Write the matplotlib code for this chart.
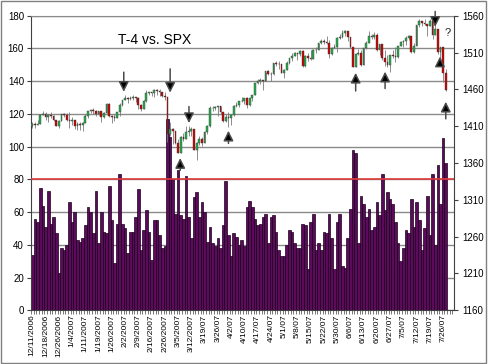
import numpy as np
import matplotlib
matplotlib.use('Agg')
import matplotlib.pyplot as plt
from matplotlib.patches import Rectangle

plt.rcParams['font.family'] = ['Liberation Sans', 'DejaVu Sans']

# T-4 reading, one bar per trading day (12/11/2006 .. 7/27/2007)
t4 = [34, 56, 54, 75, 64, 51, 73, 53, 57, 47, 23, 38, 37, 40, 66, 54, 60, 43, 42, 44,
      52, 63, 60, 47, 73, 41, 60, 48, 47, 76, 55, 29, 53, 83, 53, 50, 35, 48, 48, 57,
      74, 37, 49, 61, 48, 31, 55, 55, 46, 38, 39,
      117, 106, 80, 59, 86, 58, 56, 82, 57, 44, 69, 72, 57, 66, 60, 42, 51, 41, 39, 44,
      38, 52, 79, 46, 33, 47, 45, 40, 43, 39, 63, 67,
      63, 56, 52, 53, 57, 59, 41, 57, 58, 48, 37, 33, 33, 40, 49, 48, 41, 38, 38, 53,
      52, 25, 54, 59, 37, 41, 37, 48, 47, 59, 44, 25, 54, 59, 27, 26, 44, 62, 98, 96,
      41, 70, 65, 57, 62, 49, 51, 66, 58, 83, 61, 72, 68, 65, 54, 41, 30, 38, 49, 47,
      68, 51, 66, 55, 37, 50, 70, 46, 83, 40, 89, 65, 105, 90]

# SPX daily OHLC, same days
spx_open = [1409.8, 1413.0, 1411.6, 1413.2, 1425.5, 1427.1, 1422.5, 1425.6, 1423.5, 1418.3,
            1410.8, 1416.9, 1426.8, 1424.7, 1418.3, 1416.6, 1418.3, 1409.7, 1412.8, 1412.1,
            1414.9, 1423.8, 1430.7, 1431.9, 1430.6, 1426.4, 1430.5, 1423.0, 1428.0, 1440.1,
            1423.9, 1422.2, 1420.6, 1428.8, 1438.2, 1445.9, 1448.4, 1447.0, 1448.0, 1450.0,
            1448.3, 1438.1, 1433.4, 1444.3, 1455.3, 1456.8, 1455.5, 1459.7, 1457.6, 1456.4,
            1451.2, 1449.4, 1399.0, 1406.8, 1403.2, 1387.2, 1374.1, 1395.4, 1392.0, 1401.9,
            1402.8, 1406.6, 1378.0, 1387.2, 1392.3, 1387.0, 1402.1, 1410.9, 1435.0, 1434.5,
            1436.1, 1437.5, 1428.6, 1417.2, 1422.5, 1420.9, 1424.6, 1437.8, 1439.4, 1443.8,
            1444.6, 1448.4, 1438.9, 1447.8, 1452.9, 1468.3, 1471.5, 1472.5, 1470.7, 1484.4,
            1480.9, 1480.4, 1495.4, 1494.3, 1494.1, 1482.4, 1486.3, 1495.9, 1502.4, 1505.6,
            1509.5, 1507.7, 1512.6, 1491.5, 1505.9, 1503.2, 1501.2, 1514.1, 1512.8, 1522.8,
            1525.1, 1524.1, 1522.3, 1507.5, 1515.7, 1518.1, 1530.2, 1530.6, 1536.3, 1539.2,
            1531.0, 1517.4, 1490.7, 1507.7, 1509.1, 1493.0, 1515.7, 1523.0, 1532.9, 1531.1,
            1533.7, 1512.8, 1522.2, 1502.6, 1497.7, 1492.9, 1506.3, 1505.7, 1503.4, 1519.4,
            1524.9, 1525.4, 1530.4, 1531.9, 1510.1, 1518.8, 1547.7, 1552.5, 1549.5, 1549.4,
            1546.2, 1553.1, 1534.1, 1541.6, 1511.0, 1518.1, 1482.7]
spx_close = [1413.0, 1411.6, 1413.2, 1425.5, 1427.1, 1422.5, 1425.6, 1423.5, 1418.3, 1410.8,
             1416.9, 1426.8, 1424.7, 1418.3, 1416.6, 1418.3, 1409.7, 1412.8, 1412.1, 1414.9,
             1423.8, 1430.7, 1431.9, 1430.6, 1426.4, 1430.5, 1423.0, 1428.0, 1440.1, 1423.9,
             1422.2, 1420.6, 1428.8, 1438.2, 1445.9, 1448.4, 1447.0, 1448.0, 1450.0, 1448.3,
             1438.1, 1433.4, 1444.3, 1455.3, 1456.8, 1455.5, 1459.7, 1457.6, 1456.4, 1451.2,
             1449.4, 1399.0, 1406.8, 1403.2, 1387.2, 1374.1, 1395.4, 1392.0, 1401.9, 1402.8,
             1406.6, 1378.0, 1387.2, 1392.3, 1387.0, 1402.1, 1410.9, 1435.0, 1434.5, 1436.1,
             1437.5, 1428.6, 1417.2, 1422.5, 1420.9, 1424.6, 1437.8, 1439.4, 1443.8, 1444.6,
             1448.4, 1438.9, 1447.8, 1452.9, 1468.3, 1471.5, 1472.5, 1470.7, 1484.4, 1480.9,
             1480.4, 1495.4, 1494.3, 1494.1, 1482.4, 1486.3, 1495.9, 1502.4, 1505.6, 1509.5,
             1507.7, 1512.6, 1491.5, 1505.9, 1503.2, 1501.2, 1514.1, 1512.8, 1522.8, 1525.1,
             1524.1, 1522.3, 1507.5, 1515.7, 1518.1, 1530.2, 1530.6, 1536.3, 1539.2, 1531.0,
             1517.4, 1490.7, 1507.7, 1509.1, 1493.0, 1515.7, 1523.0, 1532.9, 1531.1, 1533.7,
             1512.8, 1522.2, 1502.6, 1497.7, 1492.9, 1506.3, 1505.7, 1503.4, 1519.4, 1524.9,
             1525.4, 1530.4, 1531.9, 1510.1, 1518.8, 1547.7, 1552.5, 1549.5, 1549.4, 1546.2,
             1553.1, 1534.1, 1541.6, 1511.0, 1518.1, 1482.7, 1458.9]
spx_high = [1415, 1415, 1418, 1427, 1431, 1429, 1426, 1429, 1425, 1419,
            1418, 1427, 1428, 1428, 1429, 1422, 1418, 1415, 1416, 1416,
            1427, 1431, 1433, 1435, 1432, 1431, 1431, 1429, 1441, 1441,
            1425, 1426, 1429, 1441, 1446, 1453, 1450, 1451, 1453, 1450,
            1450, 1440, 1445, 1459, 1457, 1457, 1460, 1460, 1461, 1457,
            1457, 1450, 1415, 1407, 1403, 1392, 1397, 1401, 1410, 1410,
            1409, 1406, 1388, 1397, 1395, 1403, 1411, 1437, 1438, 1438,
            1437, 1438, 1429, 1426, 1429, 1425, 1439, 1443, 1444, 1449,
            1448, 1449, 1448, 1453, 1468, 1474, 1476, 1472, 1484, 1486,
            1483, 1496, 1499, 1498, 1495, 1488, 1499, 1503, 1510, 1511,
            1509, 1514, 1513, 1506, 1510, 1514, 1515, 1517, 1523, 1529,
            1529, 1533, 1527, 1518, 1522, 1531, 1535, 1540, 1540, 1539,
            1531, 1517, 1508, 1515, 1513, 1516, 1526, 1539, 1535, 1538,
            1537, 1522, 1522, 1514, 1506, 1506, 1514, 1518, 1519, 1526,
            1527, 1532, 1534, 1532, 1523, 1548, 1555, 1553, 1556, 1549,
            1556, 1553, 1547, 1541, 1518, 1518, 1488]
spx_low = [1408, 1408, 1411, 1413, 1425, 1419, 1415, 1421, 1417, 1410,
           1407, 1417, 1423, 1417, 1408, 1411, 1406, 1405, 1405, 1403,
           1414, 1421, 1428, 1427, 1424, 1425, 1416, 1421, 1428, 1423,
           1414, 1417, 1421, 1424, 1437, 1446, 1442, 1445, 1446, 1443,
           1433, 1431, 1433, 1443, 1452, 1451, 1449, 1453, 1451, 1450,
           1445, 1389, 1397, 1386, 1386, 1374, 1374, 1390, 1392, 1397,
           1397, 1377, 1364, 1385, 1383, 1387, 1400, 1409, 1430, 1432,
           1424, 1427, 1416, 1415, 1409, 1411, 1424, 1436, 1436, 1443,
           1440, 1434, 1438, 1444, 1453, 1467, 1467, 1459, 1471, 1479,
           1471, 1480, 1492, 1488, 1482, 1476, 1486, 1495, 1498, 1505,
           1500, 1505, 1491, 1491, 1498, 1500, 1501, 1510, 1513, 1522,
           1522, 1522, 1503, 1507, 1516, 1511, 1528, 1530, 1533, 1525,
           1516, 1490, 1490, 1506, 1492, 1493, 1515, 1523, 1529, 1529,
           1512, 1506, 1500, 1492, 1490, 1484, 1503, 1497, 1503, 1519,
           1517, 1520, 1527, 1510, 1510, 1519, 1545, 1546, 1547, 1533,
           1546, 1529, 1534, 1508, 1503, 1470, 1458]

tick_labels = ['12/11/2006', '12/18/2006', '12/26/2006', '1/4/2007', '1/11/2007',
               '1/19/2007', '1/26/2007', '2/2/2007', '2/9/2007', '2/16/2007',
               '2/26/2007', '3/5/2007', '3/12/2007', '3/19/07', '3/26/07', '4/2/07',
               '4/10/07', '4/17/07', '4/24/07', '5/1/07', '5/8/07', '5/15/07',
               '5/22/07', '5/30/07', '6/6/07', '6/13/07', '6/20/07', '6/27/07',
               '7/5/07', '7/12/07', '7/19/07', '7/26/07']

# hand drawn arrows: (bar index, tail, tip) in T-4 units
arrows_down = [(34.5, 145.5, 133.5), (52, 147.5, 133), (59.1, 124.5, 114.4), (152, 182.6, 173.2)]
arrows_up = [(55.8, 85.5, 93), (74, 102, 109.7), (122, 134, 145.1), (133.1, 135.5, 145.8),
             (153.8, 149.8, 155), (156, 117, 127.4)]

x = np.arange(len(t4))
o = np.array(spx_open)
c = np.array(spx_close)
hi = np.array(spx_high)
lo = np.array(spx_low)

fig = plt.figure(figsize=(4.88, 3.64), dpi=100)
ax = fig.add_axes([31 / 488, 1 - 310.3 / 364, 423 / 488, 294.6 / 364])

# T-4 bars
ax.bar(x, t4, width=1.0, color='#5c0a5c', edgecolor='#1a001a', linewidth=0.5, zorder=2)
ax.axhline(80, color='#e03a3a', lw=1.2, zorder=3)

ax.set_ylim(0, 180)
ax.set_yticks(range(0, 181, 20))
ax.set_xlim(-0.5, 159.1)
ax.grid(axis='y', color='#8a8a8a', lw=1.0, zorder=0)
ax.set_axisbelow(True)

ax.set_xticks(x[::5])
ax.set_xticklabels(tick_labels, rotation=90, fontsize=6)
ax.set_xticks(np.arange(-0.5, 159, 1), minor=True)
ax.tick_params(axis='x', which='major', length=0, pad=3)
ax.tick_params(axis='x', which='minor', length=3, width=0.5, color='#404040')
ax.tick_params(axis='y', labelsize=7, length=3, width=0.8, color='#404040', pad=2)
for s in ['left', 'bottom']:
    ax.spines[s].set_color('#404040')
ax.spines['top'].set_color('#8a8a8a')
ax.spines['right'].set_visible(False)

# SPX candles on the right axis
ax2 = ax.twinx()
ax2.set_ylim(1160, 1560)
ax2.set_yticks(range(1160, 1561, 50))
ax2.tick_params(axis='y', labelsize=7, length=3, width=0.8, color='#404040', pad=3)
ax2.spines['right'].set_color('#404040')
for s in ['left', 'top', 'bottom']:
    ax2.spines[s].set_visible(False)

ax2.vlines(x, lo, hi, color='#7a7a7a', lw=0.6, zorder=2)
up = c >= o
body_lo = np.minimum(o, c)
body_h = np.maximum(np.abs(c - o), 0.8)
ax2.bar(x[up], body_h[up], bottom=body_lo[up], width=0.65, color='#22b14c',
        edgecolor='#3a3a3a', linewidth=0.3, zorder=3)
ax2.bar(x[~up], body_h[~up], bottom=body_lo[~up], width=0.65, color='#d00000',
        edgecolor='#3a3a3a', linewidth=0.3, zorder=3)

# title and arrows, placed in T-4 units
ax2.text(46.3, 165.1, 'T-4 vs. SPX', transform=ax.transData, fontsize=10,
         ha='center', va='center', color='black')
ax2.text(156.9, 169.4, '?', transform=ax.transData, fontsize=8,
         ha='center', va='center', color='#202020')
for ax_x, tail, tip in arrows_down + arrows_up:
    ax2.annotate('', xy=(ax_x, tip), xytext=(ax_x, tail),
                 xycoords=ax.transData, textcoords=ax.transData, annotation_clip=False,
                 arrowprops=dict(arrowstyle='-|>,head_length=0.6,head_width=0.3',
                                 mutation_scale=10, facecolor='black',
                                 edgecolor='#4a4a4a', lw=1.1, shrinkA=0, shrinkB=0))

# chart area border
fig.patches.append(Rectangle((0.002, 0.003), 0.994, 0.993, transform=fig.transFigure,
                             fill=False, edgecolor='#808080', lw=1.0))

fig.savefig('out.png', dpi=100)
